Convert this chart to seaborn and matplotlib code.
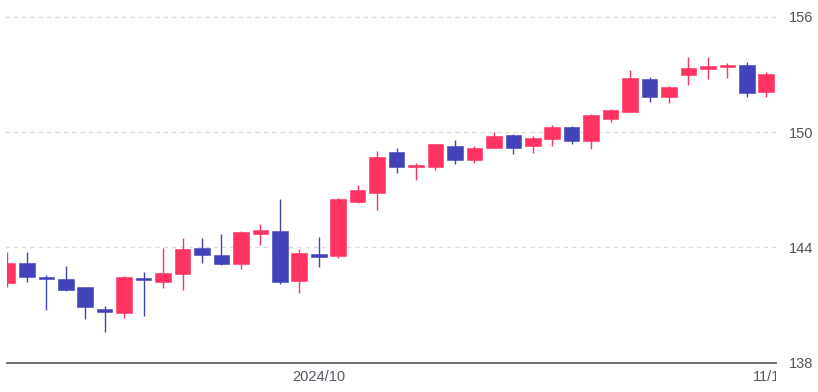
import numpy as np
import pandas as pd
import matplotlib
matplotlib.use("Agg")
import matplotlib.pyplot as plt
from matplotlib.transforms import Bbox, TransformedBbox
import seaborn as sns

# ---- data (USD/JPY daily candles) ----
dates = pd.bdate_range("2024-09-09", "2024-11-01")
opens = [142.16, 143.17, 142.44, 142.34, 141.92, 140.81, 140.60, 142.42, 142.21, 142.61,
         143.97, 143.60, 143.15, 144.68, 144.87, 142.25, 143.65, 143.57, 146.34, 146.83,
         148.94, 148.16, 148.20, 149.27, 148.54, 149.17, 149.86, 149.27, 149.62, 150.28,
         149.55, 150.69, 151.03, 152.74, 151.81, 152.98, 153.26, 153.38, 153.47, 152.07]
highs = [143.77, 143.74, 142.56, 143.04, 141.95, 140.95, 142.50, 142.72, 143.95, 144.50,
         144.47, 144.69, 144.83, 145.23, 146.50, 143.90, 144.52, 146.55, 147.24, 149.01,
         149.15, 148.39, 149.38, 149.57, 149.29, 150.00, 149.88, 149.81, 150.35, 150.32,
         150.93, 151.20, 153.21, 152.85, 152.41, 153.89, 153.89, 153.58, 153.63, 153.11]
lows = [141.95, 142.20, 140.74, 141.74, 140.29, 139.60, 140.34, 140.44, 141.90, 141.76,
        143.17, 143.10, 142.89, 144.12, 142.08, 141.64, 142.98, 143.45, 146.30, 145.93,
        147.87, 147.50, 148.02, 148.35, 148.40, 149.15, 148.87, 148.89, 149.27, 149.38,
        149.12, 150.52, 151.02, 151.58, 151.49, 152.45, 152.76, 152.79, 151.84, 151.81]
closes = [143.17, 142.44, 142.38, 141.80, 140.88, 140.62, 142.47, 142.29, 142.66, 143.93,
          143.60, 143.15, 144.81, 144.90, 142.20, 143.69, 143.51, 146.53, 146.98, 148.72,
          148.16, 148.27, 149.36, 148.56, 149.17, 149.79, 149.18, 149.67, 150.26, 149.52,
          150.90, 151.15, 152.79, 151.81, 152.36, 153.32, 153.43, 153.47, 152.01, 153.02]
x_tick_dates = ["2024-10-01", "2024-11-01"]
x_tick_labels = ["2024/10", "11/1"]
y_ticks = [138, 144, 150, 156]

df = pd.DataFrame({"date": dates, "open": opens, "high": highs, "low": lows, "close": closes})
df["idx"] = np.arange(len(df))
df["up"] = df["close"] >= df["open"]

UP = "#ff3361"
DOWN = "#4343b9"

sns.set_theme(style="white")
plt.rcParams["font.family"] = ["Liberation Sans", "DejaVu Sans"]

fig = plt.figure(figsize=(8.18, 3.92), dpi=100)
ax = fig.add_axes([7 / 818, 29.3 / 392, 769 / 818, 362.7 / 392])

colors = np.where(df["up"], UP, DOWN)
ax.vlines(df["idx"], df["low"], df["high"], colors=colors, linewidth=1.0, zorder=3)
bottoms = np.minimum(df["open"], df["close"])
heights = np.maximum(np.abs(df["close"] - df["open"]), 0.07)
ax.bar(df["idx"], heights, bottom=bottoms, width=0.8, color=colors,
       edgecolor=colors, linewidth=0.4, zorder=4)

ax.set_ylim(138, 156 + 16.7 / 19.22)
ax.set_xlim(-0.02, 39.5)

for v in y_ticks[1:]:
    ax.axhline(v, color="#dddddd", linestyle=(0, (3, 3)), linewidth=1.0, zorder=1, clip_on=False,
               xmin=-0.003, xmax=1.003)

for s in ["top", "left", "right"]:
    ax.spines[s].set_visible(False)
ax.spines["bottom"].set_color("#666666")
ax.spines["bottom"].set_linewidth(1.3)
ax.spines["bottom"].set_zorder(5)

ax.yaxis.tick_right()
ax.set_yticks(y_ticks)
ax.set_yticklabels([str(v) for v in y_ticks])
ax.tick_params(axis="y", length=0, pad=9, labelsize=10.5, labelcolor="#555555")

pos = [int(df.index[df["date"] == pd.Timestamp(d)][0]) for d in x_tick_dates]
ax.set_xticks(pos)
ax.set_xticklabels(x_tick_labels)
ax.tick_params(axis="x", length=0, pad=5, labelsize=10.5, labelcolor="#555566")
clipbox = TransformedBbox(Bbox([[0, 0], [776 / 818, 1]]), fig.transFigure)
for lab in ax.get_xticklabels():
    lab.set_clip_box(clipbox)
    lab.set_clip_on(True)

ax.set_xlabel("")
ax.set_ylabel("")
ax.grid(False)

fig.savefig("out.png", dpi=100)
